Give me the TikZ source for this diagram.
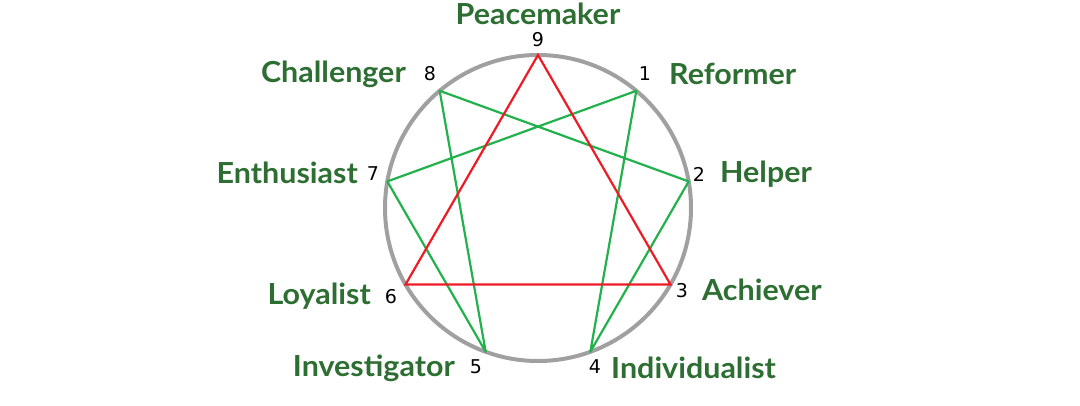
\documentclass[tikz,border=0pt]{standalone}
\usepackage{fontspec}
\setmainfont{Lato}[FakeStretch=1.05]
\newfontfamily\numfont{DejaVu Sans}
\definecolor{lblgreen}{RGB}{45,110,50}
\definecolor{lngreen}{RGB}{34,177,76}
\definecolor{lnred}{RGB}{237,28,36}
\definecolor{ringgray}{RGB}{160,160,160}
\begin{document}
\begin{tikzpicture}[x=1pt,y=-1pt,
  typelbl/.style={font=\fontsize{29}{29}\selectfont\bfseries, text=lblgreen, inner sep=0pt},
  numlbl/.style={font=\numfont\fontsize{19}{19}\selectfont, text=black, inner sep=0pt},
  greenline/.style={draw=lngreen, line width=2.2pt},
  redline/.style={draw=lnred, line width=2.2pt},
  ring/.style={draw=ringgray, line width=4pt}]
\useasboundingbox (0,0) rectangle (1080,405);
\coordinate (c) at (538,208);
\draw[ring] (c) circle[radius=153];
\coordinate (p9) at (538,55);
\coordinate (p1) at ({538+153*cos(50)},{208-153*sin(50)});
\coordinate (p2) at ({538+153*cos(10)},{208-153*sin(10)});
\coordinate (p3) at ({538+153*cos(-30)},{208-153*sin(-30)});
\coordinate (p4) at ({538+153*cos(-70)},{208-153*sin(-70)});
\coordinate (p5) at ({538+153*cos(-110)},{208-153*sin(-110)});
\coordinate (p6) at ({538+153*cos(-150)},{208-153*sin(-150)});
\coordinate (p7) at ({538+153*cos(170)},{208-153*sin(170)});
\coordinate (p8) at ({538+153*cos(130)},{208-153*sin(130)});
\draw[greenline, line join=round] (p1) -- (p4) -- (p2) -- (p8) -- (p5) -- (p7) -- cycle;
\draw[redline, line join=miter] (p9) -- (p3) -- (p6) -- cycle;
% numbers
\node[numlbl] (n9) at (538,40) {9};
\node[numlbl] (n1) at (645,74) {1};
\node[numlbl] (n2) at (699,174) {2};
\node[numlbl] (n3) at (682,291) {3};
\node[numlbl] (n4) at (595,367) {4};
\node[numlbl] (n5) at (476,367) {5};
\node[numlbl] (n6) at (391,297) {6};
\node[numlbl] (n7) at (373,174) {7};
\node[numlbl] (n8) at (430,74) {8};
% names
\node[typelbl] (l9) at (538,14) {Peacemaker};
\node[typelbl, anchor=west] (l1) at (669,74) {Reformer};
\node[typelbl, anchor=west] (l2) at (720,174) {Helper};
\node[typelbl, anchor=west] (l3) at (702,290) {Achiever};
\node[typelbl, anchor=west] (l4) at (611,368) {Individualist};
\node[typelbl, anchor=east] (l5) at (455,368) {Investigator};
\node[typelbl, anchor=east] (l6) at (371,296) {Loyalist};
\node[typelbl, anchor=east] (l7) at (358,173) {Enthusiast};
\node[typelbl, anchor=east] (l8) at (406,74) {Challenger};
\end{tikzpicture}
\end{document}
